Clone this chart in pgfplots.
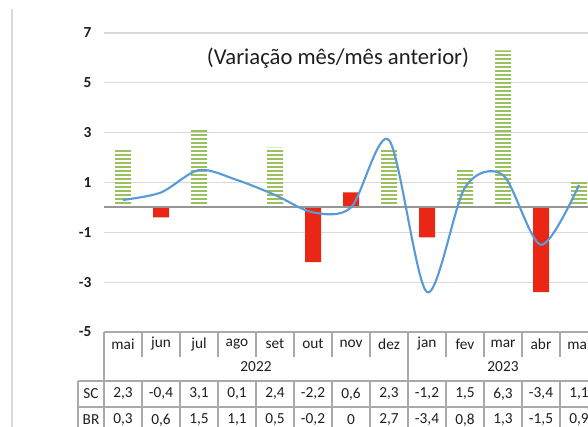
\documentclass[border=0pt]{standalone}
\usepackage{pgfplots}
\pgfplotsset{compat=1.18}
\usepackage{fontspec}
\setmainfont{Carlito}
\usetikzlibrary{patterns.meta}
\definecolor{barg}{RGB}{155,192,95}
\definecolor{barr}{RGB}{234,38,20}
\definecolor{lineb}{RGB}{91,155,213}
\definecolor{gridc}{RGB}{217,217,217}
\definecolor{zer}{RGB}{150,150,150}
\definecolor{tabc}{RGB}{170,170,170}
\definecolor{txt}{RGB}{30,30,30}
\begin{document}
\begin{tikzpicture}
\clip[use as bounding box] (0pt,0pt) rectangle (441pt,-320.25pt);
\begin{axis}[
  at={(78pt,-249pt)}, anchor=south west,
  scale only axis, width=370.5pt, height=224.25pt,
  xmin=-0.5, xmax=12.5, ymin=-5, ymax=7,
  xtick=\empty,
  ytick={-5,-3,-1,1,3,5,7},
  yticklabels={-5,-3,-1,1,3,5,7},
  yticklabel style={font=\fontsize{11.5}{13}\selectfont\bfseries, text=txt, xshift=-6pt},
  major tick length=0pt,
  axis line style={draw=none},
  ymajorgrids, grid style={gridc, line width=0.8pt},
  clip=false,
]
\addplot[ybar, bar width=12pt, bar shift=0pt, draw=none,
  pattern={Lines[angle=0,distance=3pt,line width=1.7pt]}, pattern color=barg]
  coordinates {(0,2.3) (2,3.1) (3,0.1) (4,2.4) (7,2.3) (9,1.5) (10,6.3) (12,1.1)};
\addplot[ybar, bar width=12pt, bar shift=0pt, draw=none, fill=barr]
  coordinates {(1,-0.4) (5,-2.2) (6,0.6) (8,-1.2) (11,-3.4)};
\draw[zer, line width=1.5pt] (axis cs:-0.5,0) -- (axis cs:12.5,0);
\addplot[lineb, line width=1.6pt, smooth, tension=0.5, mark=none]
  coordinates {(0,0.3) (1,0.6) (2,1.5) (3,1.1) (4,0.5) (5,-0.2) (6,0) (7,2.7) (8,-3.4) (9,0.8) (10,1.3) (11,-1.5) (12,0.9)};
\end{axis}
\begin{scope}[x=0.75pt,y=-0.75pt]
  % chart border
  \draw[gridc, line width=1.1pt] (12,9) -- (12,427);
  % title
  \node[text=txt, font=\fontsize{17}{20}\selectfont] at (338,58) {(Variação mês/mês anterior)};
  % table lines
  \begin{scope}[tabc, line width=1.1pt]
    \draw (104,332) -- (600,332);
    \draw (104,332) -- (104,430);
    \draw (78,381) -- (600,381);
    \draw (78,407) -- (600,407);
    \draw (78,381) -- (78,430);
    \draw (408,332) -- (408,430);
    \foreach \k in {1,...,12}{
      \draw (104+38*\k,332) -- (104+38*\k,357);
      \draw (104+38*\k,381) -- (104+38*\k,430);
    }
  \end{scope}
  \begin{scope}[font=\fontsize{11.5}{13}\selectfont, text=txt]
    \node at (256,367) {2022};
    \node at (503,367) {2023};
    \node at (91,394) {SC};
    \node at (91,420) {BR};
    \foreach \i/\m/\s/\b in {0/mai/{2,3}/{0,3}, 1/jun/{-0,4}/{0,6}, 2/jul/{3,1}/{1,5}, 3/ago/{0,1}/{1,1},
        4/set/{2,4}/{0,5}, 5/out/{-2,2}/{-0,2}, 6/nov/{0,6}/0, 7/dez/{2,3}/{2,7},
        8/jan/{-1,2}/{-3,4}, 9/fev/{1,5}/{0,8}, 10/mar/{6,3}/{1,3}, 11/abr/{-3,4}/{-1,5}, 12/mai/{1,1}/{0,9}}{
      \node at (123+38*\i,344) {\m};
      \node at (123+38*\i,394) {\s};
      \node at (123+38*\i,420) {\b};
    }
  \end{scope}
\end{scope}
\end{tikzpicture}
\end{document}
